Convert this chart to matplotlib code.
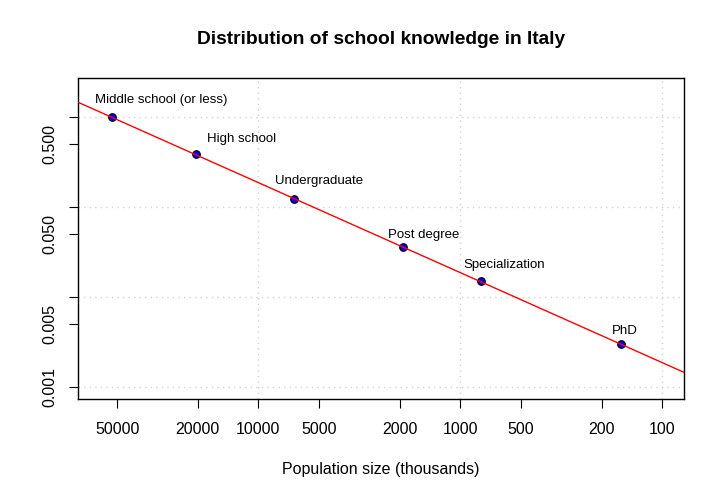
import matplotlib

matplotlib.use("Agg")
import matplotlib.pyplot as plt
import numpy as np

plt.rcParams["font.family"] = ["Liberation Sans", "DejaVu Sans"]

# population (thousands) holding at least the given level, and its share
levels = ["Middle school (or less)", "High school", "Undergraduate",
          "Post degree", "Specialization", "PhD"]
population = [53180, 20400, 6650, 1922, 793, 160]
share = [1.0, 0.388, 0.1228, 0.036, 0.01506, 0.003]

x_ticks = [50000, 20000, 10000, 5000, 2000, 1000, 500, 200, 100]
y_ticks = [1, 0.5, 0.1, 0.05, 0.01, 0.005, 0.001]
y_labels = ["", "0.500", "", "0.050", "", "0.005", "0.001"]

# label offsets from each point, in pixels (dx right, dy up)
label_offsets = [(49, 17), (46, 15), (25, 18), (21, 12), (24, 16), (4, 13)]

W, H, DPI = 725, 497, 100
fig = plt.figure(figsize=(W / DPI, H / DPI), dpi=DPI)
ax = fig.add_axes([78 / W, (H - 399.3) / H, 606 / W, 321.3 / H])
ax.set_xscale("log")
ax.set_yscale("log")
xlim = (78100, 78.1)
ax.set_xlim(*xlim)
ax.set_ylim(0.000736, 2.73)

# dotted grid at the decades
for gx in [10000, 1000, 100]:
    ax.axvline(gx, color="#d3d3d3", lw=1, ls=(0, (1, 3)), zorder=0)
for gy in [1, 0.1, 0.01, 0.001]:
    ax.axhline(gy, color="#d3d3d3", lw=1, ls=(0, (1, 3)), zorder=0)

ax.scatter(population, share, s=30, facecolor="#0000ff", edgecolor="black",
           linewidth=0.8, zorder=3)

# power-law fit drawn across the whole panel
slope, intercept = np.polyfit(np.log10(population), np.log10(share), 1)
lx = np.array(xlim)
ax.plot(lx, 10 ** (intercept + slope * np.log10(lx)), color="red", lw=1, zorder=4)

for name, px, py, (dx, dy) in zip(levels, population, share, label_offsets):
    ax.annotate(name, (px, py), xytext=(dx * 0.72, dy * 0.72),
                textcoords="offset points", ha="center", va="center",
                fontsize=9.5, zorder=5)

ax.set_xticks(x_ticks)
ax.set_xticklabels([str(v) for v in x_ticks])
ax.set_yticks(y_ticks)
ax.set_yticklabels(y_labels, rotation=90, va="center")
ax.minorticks_off()
ax.tick_params(axis="both", labelsize=11.5, length=6.5, width=0.8)
ax.tick_params(axis="x", pad=10)
ax.tick_params(axis="y", pad=8)

for sp in ax.spines.values():
    sp.set_linewidth(1)

ax.set_xlabel("Population size (thousands)", fontsize=11.5, labelpad=18)
fig.text(381 / W, 1 - 40 / H, "Distribution of school knowledge in Italy",
         ha="center", va="center", fontsize=13.8, fontweight="bold")

fig.savefig("out.png", dpi=DPI)
